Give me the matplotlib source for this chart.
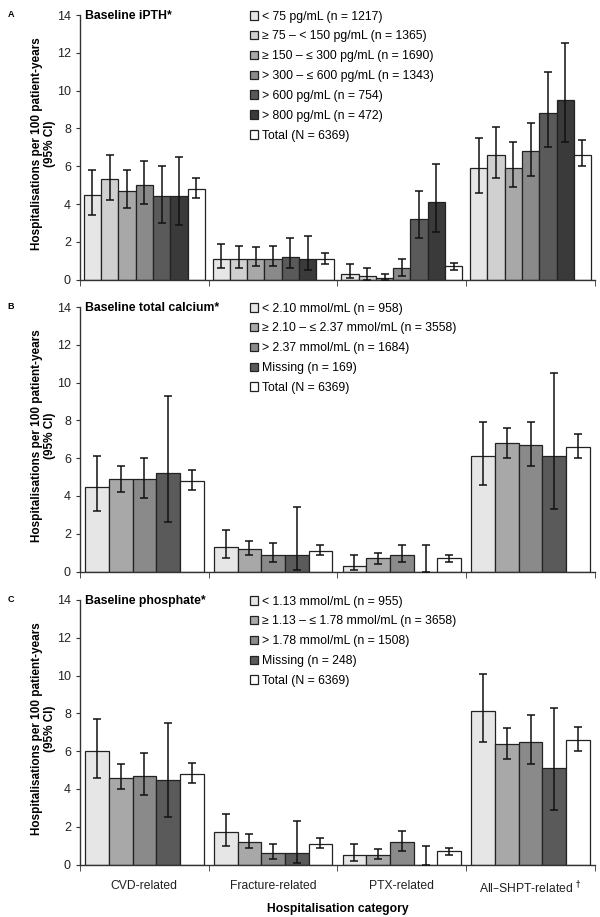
import numpy as np
import matplotlib.pyplot as plt

plt.rcParams['font.family'] = ['Liberation Sans', 'DejaVu Sans']

categories = ["CVD-related", "Fracture-related", "PTX-related", "All\u2013SHPT-related $^{\\dagger}$"]

# panel A: baseline iPTH (rows = category, columns = group)
ipth_labels = ["< 75 pg/mL (n = 1217)", "\u2265 75 \u2013 < 150 pg/mL (n = 1365)",
               "\u2265 150 \u2013 \u2264 300 pg/mL (n = 1690)", "> 300 \u2013 \u2264 600 pg/mL (n = 1343)",
               "> 600 pg/mL (n = 754)", "> 800 pg/mL (n = 472)", "Total (N = 6369)"]
ipth_values = [[4.5, 5.3, 4.7, 5.0, 4.4, 4.4, 4.8],
               [1.1, 1.1, 1.1, 1.1, 1.2, 1.1, 1.1],
               [0.3, 0.2, 0.1, 0.6, 3.2, 4.1, 0.7],
               [5.9, 6.6, 5.9, 6.8, 8.8, 9.5, 6.6]]
ipth_low = [[3.4, 4.2, 3.8, 4.0, 3.0, 2.9, 4.3],
            [0.6, 0.6, 0.7, 0.7, 0.6, 0.5, 0.8],
            [0.1, 0.0, 0.0, 0.2, 2.2, 2.5, 0.5],
            [4.6, 5.4, 4.9, 5.5, 7.0, 7.3, 6.0]]
ipth_high = [[5.8, 6.6, 5.8, 6.3, 6.0, 6.5, 5.4],
             [1.9, 1.8, 1.7, 1.8, 2.2, 2.3, 1.4],
             [0.8, 0.6, 0.3, 1.1, 4.7, 6.1, 0.9],
             [7.5, 8.1, 7.3, 8.3, 11.0, 12.5, 7.4]]
ipth_colors = ["#e6e6e6", "#d0d0d0", "#a8a8a8", "#8a8a8a", "#5a5a5a", "#3a3a3a", "#ffffff"]

# panel B: baseline total calcium
ca_labels = ["< 2.10 mmol/mL (n = 958)", "\u2265 2.10 \u2013 \u2264 2.37 mmol/mL (n = 3558)",
             "> 2.37 mmol/mL (n = 1684)", "Missing (n = 169)", "Total (N = 6369)"]
ca_values = [[4.5, 4.9, 4.9, 5.2, 4.8],
             [1.3, 1.2, 0.9, 0.9, 1.1],
             [0.3, 0.7, 0.9, 0.0, 0.7],
             [6.1, 6.8, 6.7, 6.1, 6.6]]
ca_low = [[3.2, 4.2, 3.9, 2.6, 4.3],
          [0.7, 0.9, 0.5, 0.1, 0.9],
          [0.1, 0.4, 0.5, 0.0, 0.5],
          [4.6, 6.0, 5.6, 3.3, 6.0]]
ca_high = [[6.1, 5.6, 6.0, 9.3, 5.4],
           [2.2, 1.6, 1.5, 3.4, 1.4],
           [0.9, 1.0, 1.4, 1.4, 0.9],
           [7.9, 7.6, 7.9, 10.5, 7.3]]

# panel C: baseline phosphate
p_labels = ["< 1.13 mmol/mL (n = 955)", "\u2265 1.13 \u2013 \u2264 1.78 mmol/mL (n = 3658)",
            "> 1.78 mmol/mL (n = 1508)", "Missing (n = 248)", "Total (N = 6369)"]
p_values = [[6.0, 4.6, 4.7, 4.5, 4.8],
            [1.7, 1.2, 0.6, 0.6, 1.1],
            [0.5, 0.5, 1.2, 0.0, 0.7],
            [8.1, 6.4, 6.5, 5.1, 6.6]]
p_low = [[4.6, 4.0, 3.7, 2.5, 4.3],
         [1.0, 0.9, 0.3, 0.1, 0.9],
         [0.2, 0.3, 0.7, 0.0, 0.5],
         [6.5, 5.6, 5.3, 2.9, 6.0]]
p_high = [[7.7, 5.3, 5.9, 7.5, 5.4],
          [2.7, 1.6, 1.1, 2.3, 1.4],
          [1.1, 0.8, 1.8, 1.0, 0.9],
          [10.1, 7.2, 7.9, 8.3, 7.3]]
five_colors = ["#e6e6e6", "#a8a8a8", "#8a8a8a", "#5a5a5a", "#ffffff"]

panels = [
    ("A", "Baseline iPTH*", ipth_labels, ipth_values, ipth_low, ipth_high, ipth_colors, 0.94, 0.9836),
    ("B", "Baseline total calcium*", ca_labels, ca_values, ca_low, ca_high, five_colors, 0.92, 0.6652),
    ("C", "Baseline phosphate*", p_labels, p_values, p_low, p_high, five_colors, 0.92, 0.3457),
]

fig = plt.figure(figsize=(6, 9.17), dpi=100)
x = np.arange(len(categories))

for k, (letter, title, labels, vals, lo, hi, colors, gw, top) in enumerate(panels):
    ax = fig.add_axes([0.1333, top - 0.2885, 0.8583, 0.2885])
    vals = np.array(vals)
    lo = np.array(lo)
    hi = np.array(hi)
    n = len(labels)
    w = gw / n
    for i in range(n):
        xi = x - gw / 2 + w * (i + 0.5)
        ax.bar(xi, vals[:, i], width=w, color=colors[i], edgecolor="#222222",
               linewidth=0.9, label=labels[i], zorder=2)
        ax.errorbar(xi, vals[:, i], yerr=[vals[:, i] - lo[:, i], hi[:, i] - vals[:, i]],
                    fmt="none", ecolor="#111111", elinewidth=1.1, capsize=2.8,
                    capthick=1.1, zorder=3)

    ax.set_xlim(-0.5, 3.5)
    ax.set_ylim(0, 14)
    ax.set_yticks(range(0, 15, 2))
    ax.tick_params(axis="y", labelsize=9, length=3, colors="#333333", labelcolor="#222222")
    ax.set_xticks(x)
    ax.set_xticks(np.arange(-0.5, 4, 1), minor=True)
    ax.tick_params(axis="x", which="major", length=0, labelsize=8.7, pad=11, labelcolor="#222222")
    ax.tick_params(axis="x", which="minor", length=4, color="#333333")
    if k < 2:
        ax.set_xticklabels([])
    else:
        ax.set_xticklabels(categories)
        ax.set_xlabel("Hospitalisation category", fontsize=8.7, fontweight="bold", labelpad=5)
    for s in ["top", "right"]:
        ax.spines[s].set_visible(False)
    for s in ["left", "bottom"]:
        ax.spines[s].set_color("#333333")
        ax.spines[s].set_linewidth(1.0)

    ax.text(0.01, 1.02, title, transform=ax.transAxes, fontsize=8.8, fontweight="bold",
            va="top", ha="left")
    ax.text(-0.071, 0.515, "Hospitalisations per 100 patient-years\n(95% CI)",
            transform=ax.transAxes, rotation=90, ha="center", va="center",
            fontsize=8.5, fontweight="bold", multialignment="center", linespacing=1.05)
    fig.text(0.013, top + 0.005, letter, fontsize=6.5, fontweight="bold", va="top")

    ax.legend(loc="upper left", bbox_to_anchor=(0.32, 1.035), frameon=False, fontsize=8.8,
              handlelength=0.7, handleheight=0.7, handletextpad=0.3, labelspacing=0.64,
              borderaxespad=0)

fig.savefig("out.png", dpi=100)
